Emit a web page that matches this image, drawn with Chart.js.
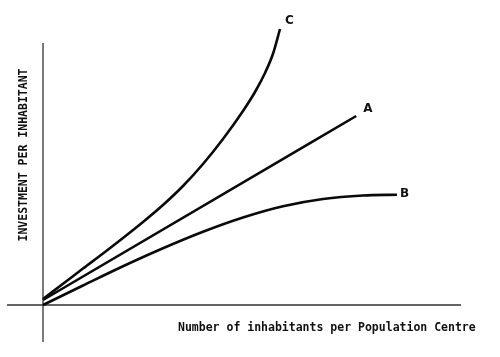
<!DOCTYPE html>
<html>
<head>
<meta charset="utf-8">
<script src="https://cdn.jsdelivr.net/npm/chart.js@4"></script>
<style>
html,body{margin:0;padding:0;background:#fff;}
#wrap{width:500px;height:357px;position:relative;}
</style>
</head>
<body>
<div id="wrap"><canvas id="c"></canvas></div>
<script>
// Curve data (abstract units)
const seriesLabels = ["C", "A", "B"];
const cX = [0, 0.5, 1, 1.5, 2, 2.5, 3, 3.5, 4, 4.5, 5, 5.3, 5.55, 5.75, 5.925];
const cY = [0.24, 0.85, 1.46, 2.06, 2.68, 3.32, 4.0, 4.76, 5.64, 6.64, 7.76, 8.52, 9.28, 10.05, 11.04];
const aX = [0, 7.83];
const aY = [0.2, 7.56];
const bX = [0, 1, 2, 3, 4, 5, 6, 7, 8, 8.85];
const bY = [0, 0.78, 1.55, 2.27, 2.93, 3.5, 3.95, 4.24, 4.38, 4.41];
const xAxisTitle = "Number of inhabitants per Population Centre";
const yAxisTitle = "INVESTMENT PER INHABITANT";
// axis line extents in data units
const xAxisExtent = [-0.9, 10.45];
const yAxisExtent = [-1.48, 10.48];

const toPts = (xs, ys) => xs.map((x, i) => ({x: x, y: ys[i]}));
const FONT = 'bold 11.5px "DejaVu Sans Mono", "Liberation Mono", monospace';

const decor = {
  id: 'decor',
  beforeDatasetsDraw(chart) {
    const ctx = chart.ctx, xs = chart.scales.x, ys = chart.scales.y;
    ctx.save();
    ctx.strokeStyle = '#333';
    ctx.lineWidth = 1.3;
    ctx.beginPath();
    ctx.moveTo(xs.getPixelForValue(xAxisExtent[0]), ys.getPixelForValue(0));
    ctx.lineTo(xs.getPixelForValue(xAxisExtent[1]), ys.getPixelForValue(0));
    ctx.moveTo(xs.getPixelForValue(0), ys.getPixelForValue(yAxisExtent[0]));
    ctx.lineTo(xs.getPixelForValue(0), ys.getPixelForValue(yAxisExtent[1]));
    ctx.stroke();
    ctx.restore();
  },
  afterDatasetsDraw(chart) {
    const ctx = chart.ctx;
    ctx.save();
    ctx.fillStyle = '#111';
    ctx.font = FONT;
    ctx.textBaseline = 'middle';
    ctx.textAlign = 'left';
    ctx.fillText(xAxisTitle, 178, 328);
    ctx.save();
    ctx.translate(24, 155);
    ctx.rotate(-Math.PI / 2);
    ctx.textAlign = 'center';
    ctx.fillText(yAxisTitle, 0, 0);
    ctx.restore();
    // series end labels
    const offs = [[5, -8], [7, -7], [3, -1]];
    chart.data.datasets.forEach((ds, i) => {
      const meta = chart.getDatasetMeta(i);
      const last = meta.data[meta.data.length - 1];
      ctx.font = 'bold 12px "DejaVu Sans", sans-serif';
      ctx.textAlign = 'left';
      ctx.fillText(ds.label, last.x + offs[i][0], last.y + offs[i][1]);
    });
    ctx.restore();
  }
};

new Chart(document.getElementById('c'), {
  type: 'line',
  data: {
    datasets: [
      {label: seriesLabels[0], data: toPts(cX, cY)},
      {label: seriesLabels[1], data: toPts(aX, aY)},
      {label: seriesLabels[2], data: toPts(bX, bY)}
    ].map(d => Object.assign(d, {
      borderColor: '#0a0a0a', borderWidth: 2.6, pointRadius: 0,
      cubicInterpolationMode: 'monotone', fill: false, borderCapStyle: 'butt'
    }))
  },
  options: {
    responsive: true,
    maintainAspectRatio: false,
    animation: false,
    layout: {padding: {left: 7, right: 39, top: 15, bottom: 15}},
    plugins: {legend: {display: false}, tooltip: {enabled: false}},
    scales: {
      x: {type: 'linear', display: false, min: -0.9, max: 10.45},
      y: {type: 'linear', display: false, min: -1.48, max: 11.6}
    },
    clip: false
  },
  plugins: [decor]
});
</script>
</body>
</html>
